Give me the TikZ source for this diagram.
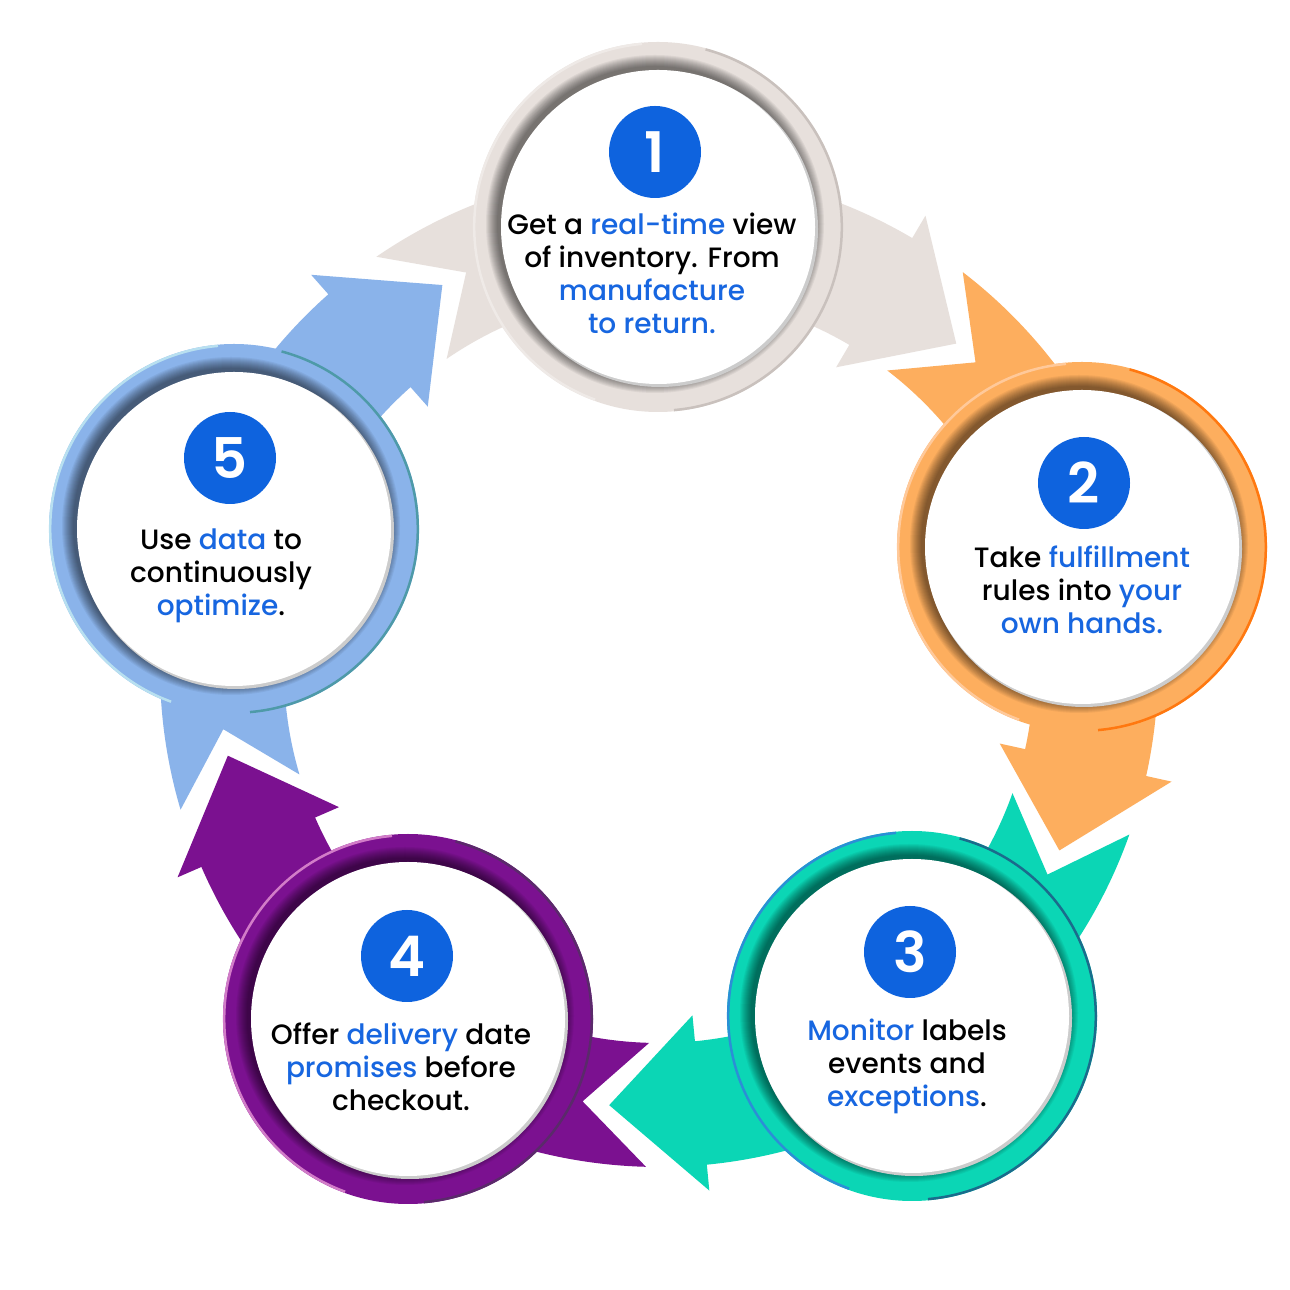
\documentclass[tikz,border=0pt]{standalone}
\usepackage{fontspec}
\setmainfont{Poppins}[UprightFont=* Medium, BoldFont=* SemiBold]
\usetikzlibrary{calc}
\definecolor{cgray}{HTML}{E7E0DC}
\definecolor{cgrayL}{HTML}{EFEAE7}
\definecolor{cgrayD}{HTML}{C9C1BD}
\definecolor{corange}{HTML}{FDAE5E}
\definecolor{corangeL}{HTML}{FFC99A}
\definecolor{corangeD}{HTML}{FF7810}
\definecolor{cteal}{HTML}{0BD6B5}
\definecolor{ctealL}{HTML}{2B8FD6}
\definecolor{ctealD}{HTML}{1A6C8C}
\definecolor{cpurple}{HTML}{7B1190}
\definecolor{cpurpleL}{HTML}{D27CC8}
\definecolor{cpurpleD}{HTML}{5A2A6A}
\definecolor{cblue}{HTML}{8AB3EA}
\definecolor{cblueL}{HTML}{B8E0F0}
\definecolor{cblueD}{HTML}{4E9AA8}
\definecolor{badgeblue}{HTML}{0E63DE}
\definecolor{hlblue}{HTML}{1766E0}
\newcommand{\B}[1]{\textcolor{hlblue}{#1}}
\tikzset{
  badge/.style={circle, fill=badgeblue, text=white, minimum size=92pt, inner sep=0pt,
    font=\fontsize{56}{56}\selectfont\bfseries},
  txt/.style={align=center, font=\fontsize{28}{33}\selectfont, text=black, inner sep=0pt},
  ringnode/.style={circle, minimum size=370pt, inner sep=0pt, fill=#1},
}
\newcommand{\DrawStep}[6]{%
  \node[ringnode=#4] (#1) at (#2,#3) {};
  \draw[#5, line width=2.5pt] ($(#2,#3)+(95:183.8)$) arc[start angle=95, end angle=250, radius=183.8];
  \draw[#6, line width=2.5pt] ($(#2,#3)+(-85:183.8)$) arc[start angle=-85, end angle=75, radius=183.8];
  \foreach \i in {1,...,12} { \fill[black, opacity=0.05] ($(#2,#3)+(-3,3)$) circle[radius=157+\i]; }
  \fill[black!20] ($(#2,#3)+(2,-2)$) circle[radius=158];
  \fill[white] (#2,#3) circle[radius=157];
}
\begin{document}
\begin{tikzpicture}[x=1pt,y=1pt]
\useasboundingbox (0,0) rectangle (1290,1290);
\fill[white] (0,0) rectangle (1290,1290);
% ring of arrows
\begin{scope}[shift={(659,622)}]
\foreach \th/\col in {90/cgray, 18/corange, -54/cteal, -126/cpurple, -198/cblue} {
  \pgfmathsetmacro\bA{\th-30.5}
  \pgfmathsetmacro\tA{\th-42.5}
  \pgfmathsetmacro\pA{\th+34.5}
  \pgfmathsetmacro\nA{\th+26}
  \fill[\col] (\pA:499) -- (\nA:440) -- (\pA:375)
    arc[start angle=\pA, end angle=\bA, radius=375]
    -- (\bA:349) -- (\tA:440) -- (\bA:525) -- (\bA:499)
    arc[start angle=\bA, end angle=\pA, radius=499] -- cycle;
}
\end{scope}
% circles
\DrawStep{s1}{658}{1063}{cgray}{cgrayL}{cgrayD}
\DrawStep{s2}{1082}{743}{corange}{corangeL}{corangeD}
\DrawStep{s3}{912}{274}{cteal}{ctealL}{ctealD}
\DrawStep{s4}{408}{271}{cpurple}{cpurpleL}{cpurpleD}
\DrawStep{s5}{234}{761}{cblue}{cblueL}{cblueD}
% badges
\node[badge] (b1) at (655,1138) {1};
\node[badge] (b2) at (1084,807) {2};
\node[badge] (b3) at (910,338) {3};
\node[badge] (b4) at (407,334) {4};
\node[badge] (b5) at (230,832) {5};
% texts
\node[txt] (t1) at (652,1017) {Get a \B{real-time} view\\of inventory. From\\\B{manufacture}\\\B{to return.}};
\node[txt] (t2) at (1082,700) {Take \B{fulfillment}\\rules into \B{your}\\\B{own hands.}};
\node[txt] (t3) at (907,224) {\B{Monitor} labels\\events and\\\B{exceptions}.};
\node[txt] (t4) at (401,223) {Offer \B{delivery} date\\\B{promises} before\\checkout.};
\node[txt] (t5) at (221,714) {Use \B{data} to\\continuously\\\B{optimize}.};
\end{tikzpicture}
\end{document}
